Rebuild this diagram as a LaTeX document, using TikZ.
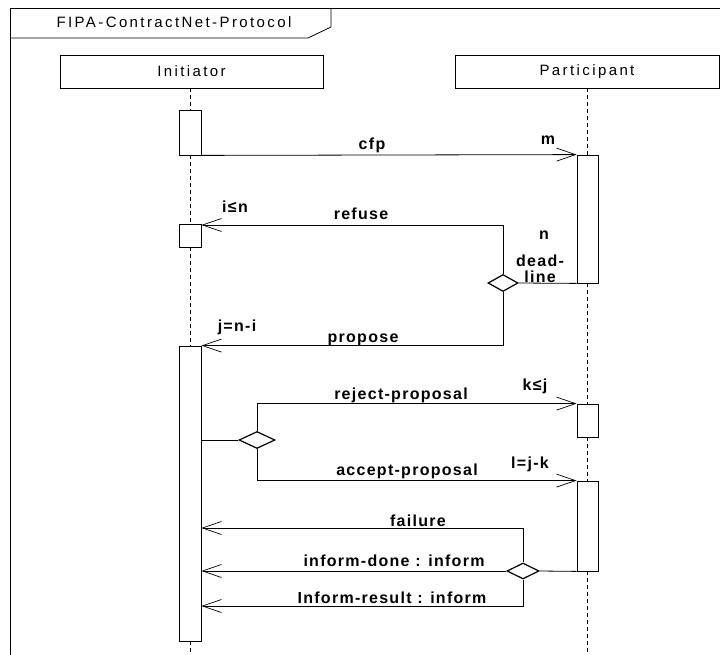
\documentclass[tikz,border=0pt]{standalone}
\usepackage{fontspec}
\setmainfont{Liberation Sans}
\newfontfamily\msgfont[LetterSpace=8]{Liberation Sans}
\newfontfamily\headfont[LetterSpace=16]{Liberation Sans}
\usetikzlibrary{arrows.meta,shapes.geometric}

\begin{document}
\begin{tikzpicture}[x=1pt,y=-1pt,
  line width=0.8pt,
  headtext/.style={font=\headfont\fontsize{15}{17}\selectfont},
  lifehead/.style={draw, headtext, minimum width=263pt, minimum height=33pt, inner sep=0pt},
  actbox/.style={draw, fill=white, minimum width=22pt, inner sep=0pt},
  lifeline/.style={dash pattern=on 4pt off 3pt},
  msg/.style={-{Straight Barb[length=19pt,width=13pt,line width=0.7pt]}},
  choice/.style={draw, diamond, inner sep=0pt, line width=1.2pt, fill=white},
  lbl/.style={anchor=base, inner sep=0pt, font=\msgfont\bfseries\fontsize{16}{18}\selectfont},
]
\useasboundingbox (0,0) rectangle (720,655);

% frame and its name tab
\draw (720,8) -- (10,8) -- (10,655);
\draw (10,38) -- (308,38) -- (331,27) -- (331,8);
\node[headtext, anchor=base, inner sep=0pt] (title) at (174,28) {FIPA-ContractNet-Protocol};

% lifeline heads
\node[lifehead] (ini) at (191.5,71.5) {Initiator};
\node[lifehead, minimum width=264pt] (par) at (587,71.5) {Participant};

% activation bars
\node[actbox, minimum height=45pt] (a1) at (190,132.5) {};
\node[actbox, minimum height=23pt] (a2) at (190,235.5) {};
\node[actbox, minimum height=295pt] (a3) at (190,493.5) {};
\node[actbox, minimum width=21pt, minimum height=128pt] (b1) at (587.5,219) {};
\node[actbox, minimum width=21pt, minimum height=33pt] (b2) at (587.5,420.5) {};
\node[actbox, minimum width=21pt, minimum height=90pt] (b3) at (587.5,526) {};

% dashed lifelines between the bars
\coordinate (bottom) at (0,655);
\draw[lifeline] (a1.north |- ini.south) -- (a1.north);
\draw[lifeline] (a1.south) -- (a2.north);
\draw[lifeline] (a2.south) -- (a3.north);
\draw[lifeline] (a3.south) -- (a3.south |- bottom);
\draw[lifeline] (b1.north |- par.south) -- (b1.north);
\draw[lifeline] (b1.south) -- (b2.north);
\draw[lifeline] (b2.south) -- (b3.north);
\draw[lifeline] (b3.south) -- (b3.south |- bottom);

% decision diamonds
\node[choice, minimum width=30pt, minimum height=17pt] (d1) at (503,283) {};
\node[choice, minimum width=36pt, minimum height=17pt] (d2) at (257,440) {};
\node[choice, minimum width=32pt, minimum height=16pt] (d3) at (523,571) {};

% messages
\coordinate (yRefuse) at (0,225);
\coordinate (yFail) at (0,528);
\coordinate (yResult) at (0,606);
\draw[msg] (a1.south east) -- (b1.north west);
\draw (d1.east) -- (b1.south west);
\draw[msg] (d1.north) |- (a2.east |- yRefuse);
\draw[msg] (d1.south) |- (a3.north east);
\draw (a3.east |- d2.west) -- (d2.west);
\draw[msg] (d2.north) |- (b2.north west);
\draw[msg] (d2.south) |- (b3.north west);
\draw (d3.east) -- (b3.south west);
\draw[msg] (d3.north) |- (a3.east |- yFail);
\draw[msg] (d3.west) -- (a3.east |- d3.west);
\draw[msg] (d3.south) |- (a3.east |- yResult);

% message labels
\node[lbl] (lcfp) at (372,150) {cfp};
\node[lbl] (lm) at (548,145) {m};
\node[lbl] (lrefuse) at (361,219) {refuse};
\node[lbl] (lin) at (235,212) {i≤n};
\node[lbl] (ln) at (544,240) {n};
\node[lbl] (ldead) at (540,266) {dead-};
\node[lbl] (lline) at (540,282) {line};
\node[lbl] (ljni) at (237,331) {j=n-i};
\node[lbl] (lpropose) at (363,342) {propose};
\node[lbl] (lreject) at (401,399) {reject-proposal};
\node[lbl] (lkj) at (535,390) {k≤j};
\node[lbl] (laccept) at (407,475) {accept-proposal};
\node[lbl] (llk) at (530,468) {l=j-k};
\node[lbl] (lfail) at (418,526) {failure};
\node[lbl] (ldone) at (394,566) {inform-done : inform};
\node[lbl] (lresult) at (392,603) {Inform-result : inform};
\end{tikzpicture}
\end{document}
